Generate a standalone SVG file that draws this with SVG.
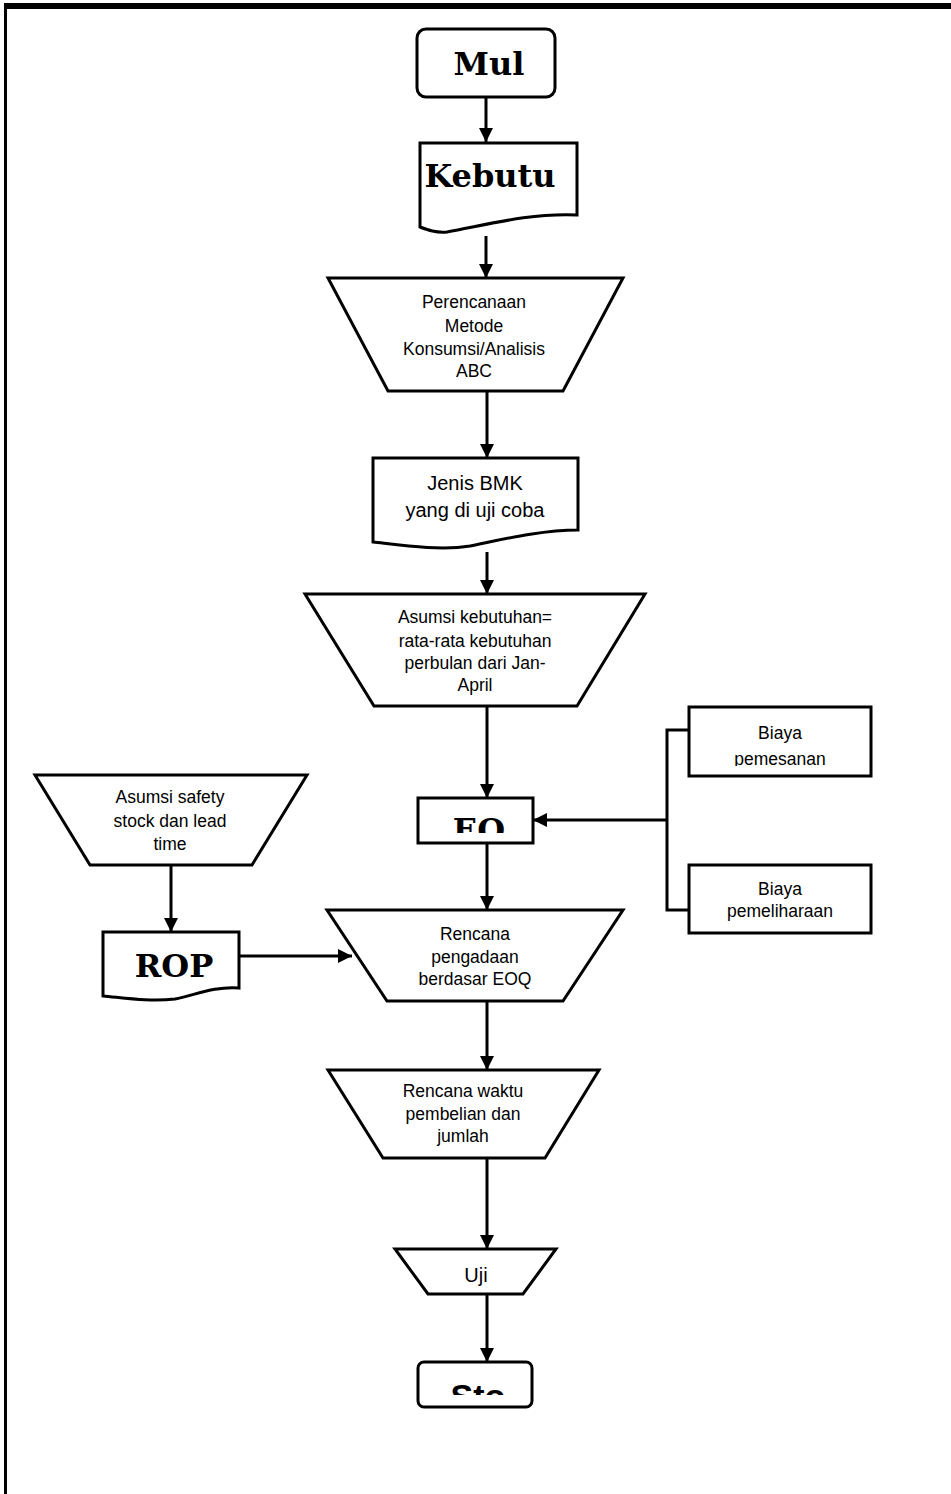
<svg xmlns="http://www.w3.org/2000/svg" width="951" height="1494" viewBox="0 0 951 1494">
<style>
.s{fill:#fff;stroke:#000;stroke-width:3;stroke-linejoin:miter}
.c{fill:none;stroke:#000;stroke-width:3}
.t{font-family:"Liberation Sans",Arial,sans-serif;font-size:17.5px;fill:#000;text-anchor:middle}
.t2{font-family:"Liberation Sans",Arial,sans-serif;font-size:20px;fill:#000;text-anchor:middle}
.b{font-family:"DejaVu Serif",serif;font-weight:bold;font-size:32px;fill:#000;text-anchor:middle}
.bs{font-family:"Liberation Sans",Arial,sans-serif;font-weight:bold;font-size:34px;fill:#000;text-anchor:middle}
</style>
<defs>
<marker id="ah" markerWidth="14" markerHeight="14" refX="14" refY="7" orient="auto" markerUnits="userSpaceOnUse" viewBox="0 0 14 14">
<path d="M0,0 L14,7 L0,14 Z" fill="#000"/>
</marker>
<clipPath id="ceoq"><rect x="418" y="798" width="115" height="35"/></clipPath>
<clipPath id="csto"><rect x="418" y="1362" width="114" height="33"/></clipPath>
<clipPath id="cpem"><rect x="689" y="751" width="182" height="15"/></clipPath>
</defs>
<g id="border">
<line x1="4" y1="6" x2="951" y2="6" stroke="#000" stroke-width="6"/>
<line x1="5.5" y1="3" x2="5.5" y2="1494" stroke="#000" stroke-width="3"/>
</g>
<g id="connectors">
<line class="c" x1="486" y1="97" x2="486" y2="142" marker-end="url(#ah)"/>
<line class="c" x1="486" y1="236" x2="486" y2="278" marker-end="url(#ah)"/>
<line class="c" x1="487" y1="391" x2="487" y2="458" marker-end="url(#ah)"/>
<line class="c" x1="487" y1="552" x2="487" y2="594" marker-end="url(#ah)"/>
<line class="c" x1="487" y1="706" x2="487" y2="798" marker-end="url(#ah)"/>
<line class="c" x1="487" y1="843" x2="487" y2="910" marker-end="url(#ah)"/>
<polyline class="c" points="689,730 667,730 667,910 689,910"/>
<line class="c" x1="667" y1="820" x2="533" y2="820" marker-end="url(#ah)"/>
<line class="c" x1="171" y1="865" x2="171" y2="932" marker-end="url(#ah)"/>
<line class="c" x1="239" y1="956" x2="352" y2="956" marker-end="url(#ah)"/>
<line class="c" x1="487" y1="1001" x2="487" y2="1070" marker-end="url(#ah)"/>
<line class="c" x1="487" y1="1158" x2="487" y2="1249" marker-end="url(#ah)"/>
<line class="c" x1="487" y1="1294" x2="487" y2="1362" marker-end="url(#ah)"/>
</g>
<g id="mulai">
<rect class="s" x="417" y="29" width="138" height="68" rx="9"/>
<text class="b" x="489" y="75">Mul</text>
</g>
<g id="kebutuhan">
<path class="s" d="M420,143 H577 V215 C530,213 490,224 447,232 C436,233 428,230 420,227 Z"/>
<text class="b" x="490" y="187">Kebutu</text>
</g>
<g id="perencanaan">
<polygon class="s" points="328,278 623,278 563,391 388,391"/>
<text class="t" x="474" y="308">Perencanaan</text>
<text class="t" x="474" y="332">Metode</text>
<text class="t" x="474" y="355">Konsumsi/Analisis</text>
<text class="t" x="474" y="377">ABC</text>
</g>
<g id="jenis">
<path class="s" d="M373,458 H578 V530 C540,530 500,540 470,546 C440,551 400,545 373,542 Z"/>
<text class="t2" x="475" y="490">Jenis BMK</text>
<text class="t2" x="475" y="517">yang di uji coba</text>
</g>
<g id="asumsi-kebutuhan">
<polygon class="s" points="305,594 645,594 577,706 374,706"/>
<text class="t" x="475" y="623">Asumsi kebutuhan=</text>
<text class="t" x="475" y="647">rata-rata kebutuhan</text>
<text class="t" x="475" y="669">perbulan dari Jan-</text>
<text class="t" x="475" y="691">April</text>
</g>
<g id="eoq">
<rect class="s" x="418" y="798" width="115" height="45"/>
<text class="b" x="479" y="841" font-size="33" clip-path="url(#ceoq)">EO</text>
</g>
<g id="biaya-pemesanan">
<rect class="s" x="689" y="707" width="182" height="69"/>
<text class="t" x="780" y="739">Biaya</text>
<text class="t" x="780" y="765" clip-path="url(#cpem)">pemesanan</text>
</g>
<g id="biaya-pemeliharaan">
<rect class="s" x="689" y="865" width="182" height="68"/>
<text class="t" x="780" y="895">Biaya</text>
<text class="t" x="780" y="917">pemeliharaan</text>
</g>
<g id="asumsi-safety">
<polygon class="s" points="35,775 307,775 252,865 90,865"/>
<text class="t" x="170" y="803">Asumsi safety</text>
<text class="t" x="170" y="827">stock dan lead</text>
<text class="t" x="170" y="850">time</text>
</g>
<g id="rop">
<path class="s" d="M103,932 H239 V988 C215,986 195,995 175,999 C150,1002 125,998 103,996 Z"/>
<text class="b" x="174" y="977" font-size="33">ROP</text>
</g>
<g id="rencana-pengadaan">
<polygon class="s" points="327,910 623,910 563,1001 387,1001"/>
<text class="t" x="475" y="940">Rencana</text>
<text class="t" x="475" y="963">pengadaan</text>
<text class="t" x="475" y="985">berdasar EOQ</text>
</g>
<g id="rencana-waktu">
<polygon class="s" points="328,1070 599,1070 545,1158 383,1158"/>
<text class="t" x="463" y="1097">Rencana waktu</text>
<text class="t" x="463" y="1120">pembelian dan</text>
<text class="t" x="463" y="1142">jumlah</text>
</g>
<g id="uji">
<polygon class="s" points="395,1249 556,1249 523,1294 428,1294"/>
<text class="t2" x="476" y="1282">Uji</text>
</g>
<g id="stop">
<rect class="s" x="418" y="1362" width="114" height="45" rx="6"/>
<text class="bs" x="478" y="1408" clip-path="url(#csto)">Sto</text>
</g>
</svg>
